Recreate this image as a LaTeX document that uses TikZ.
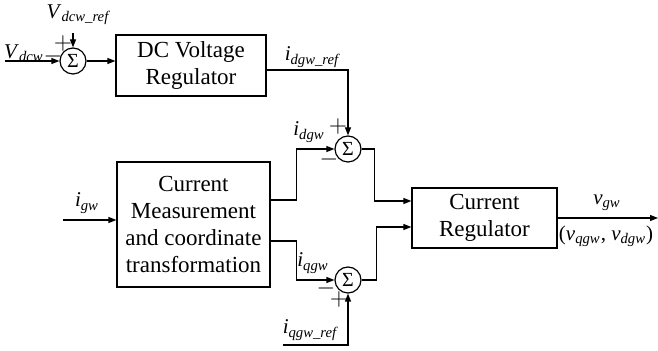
\documentclass[tikz,border=0pt]{standalone}
\usepackage{amsmath}
\usepackage{fontspec}
\setmainfont{Liberation Serif}
\usepackage{tikz}
\usetikzlibrary{arrows.meta, positioning}
\newcommand{\sig}[2]{\textit{#1}$_{\textit{#2}}$}

\begin{document}
\begin{tikzpicture}[
  x=0.5pt, y=-0.5pt,
  every node/.style={font=\fontsize{11.5}{13.5}\selectfont},
  block/.style={rectangle, draw, line width=0.6pt, align=center, inner sep=0pt},
  sum/.style={circle, draw, line width=0.6pt, minimum size=13pt, inner sep=0pt, font=\fontsize{10}{12}\selectfont},
  sgn/.style={inner sep=0pt, font=\fontsize{13}{13}\selectfont},
  lbl/.style={inner sep=0pt, font=\fontsize{10.5}{12}\selectfont},
  arr/.style={line width=0.6pt, -{Triangle[length=4pt, width=3pt]}}
]
  \useasboundingbox (0,0) rectangle (658,351);

  \node[sum] (sumv) at (73,61) {Σ};
  \node[block, minimum width=75pt, minimum height=30.5pt] (dcvr) at (191,65.5) {DC Voltage\\Regulator};
  \node[block, minimum width=76.5pt, minimum height=62.5pt] (cm) at (193.5,224.5) {Current\\Measurement\\and coordinate\\transformation};
  \node[sum] (sumd) at (348,149) {Σ};
  \node[sum] (sumq) at (348,280) {Σ};
  \node[block, minimum width=72.5pt, minimum height=30pt] (cr) at (484.5,218) {Current\\Regulator};

  \coordinate (vin) at (5,61);
  \coordinate (vref) at (73,33);
  \coordinate (igw) at (63,220);
  \coordinate (iqref) at (283,345);
  \coordinate (vout) at (658,218);

  \draw[arr] (vin) -- (sumv);
  \draw[arr] (vref) -- (sumv);
  \draw[arr] (sumv) -- (sumv -| dcvr.west);
  \draw[arr] ([yshift=-2.25pt]dcvr.east) -| (sumd);
  \draw[arr] (igw) -- (igw -| cm.west);
  \draw[arr] ([yshift=12.25pt]cm.east) -- ++(26,0) |- (sumd);
  \draw[arr] ([yshift=-8.25pt]cm.east) -- ++(26,0) |- (sumq);
  \draw[arr] (iqref) -| (sumq);
  \draw[arr] (sumd.east) -- ++(13,0) |- ([yshift=8.5pt]cr.west);
  \draw[arr] (sumq.east) -- ++(15,0) |- ([yshift=-4.5pt]cr.west);
  \draw[arr] (cr.east) -- (vout);

  \node[lbl] (lvdc) at (24,53) {\sig{V}{dcw}};
  \node[lbl] (lvref) at (78,15) {\sig{V}{dcw\_ref}};
  \node[sgn] (p1) at (63,44) {$+$};
  \node[sgn] (m1) at (53,57) {$-$};
  \node[lbl] (lidref) at (312,57) {\sig{i}{dgw\_ref}};
  \node[lbl] (lid) at (309,132) {\sig{i}{dgw}};
  \node[sgn] (p2) at (338,127) {$+$};
  \node[sgn] (m2) at (329,160) {$-$};
  \node[lbl] (liq) at (313,263) {\sig{i}{qgw}};
  \node[sgn] (m3) at (326,289) {$-$};
  \node[sgn] (p3) at (339,300) {$+$};
  \node[lbl] (liqref) at (310,330) {\sig{i}{qgw\_ref}};
  \node[lbl] (ligw) at (87,203) {\sig{i}{gw}};
  \node[lbl] (lvgw) at (607,203) {\sig{v}{gw}};
  \node[lbl] (lvqd) at (606,236) {(\sig{v}{qgw}, \sig{v}{dgw})};
\end{tikzpicture}
\end{document}
